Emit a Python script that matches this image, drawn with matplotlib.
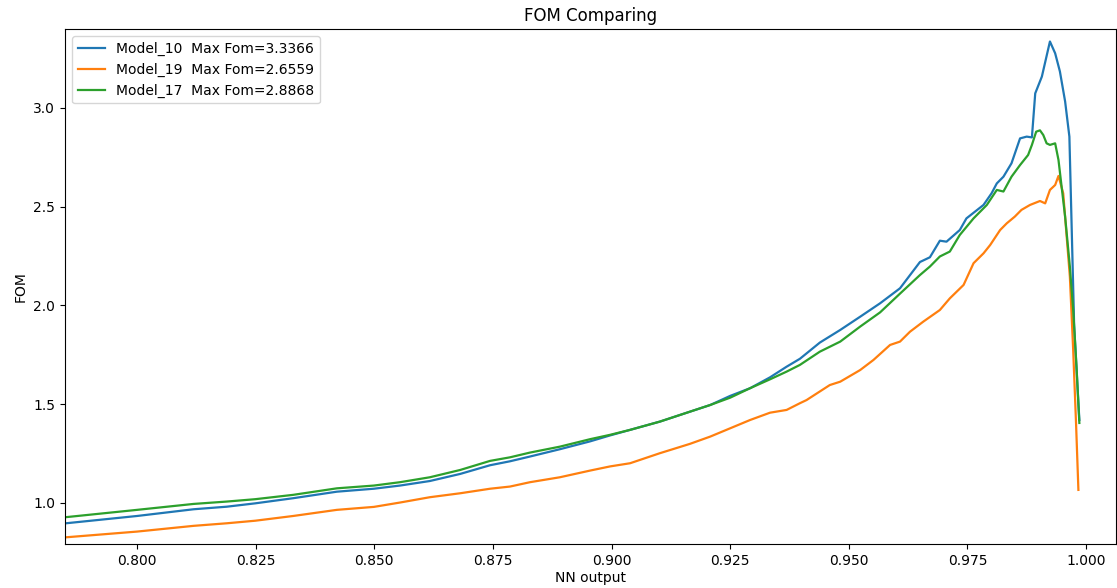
import matplotlib
matplotlib.use("Agg")
import matplotlib.pyplot as plt

# Model_10 (blue)
x_m10 = [0.7850, 0.8000, 0.8119, 0.8189, 0.8249, 0.8329, 0.8421, 0.8499, 0.8554, 0.8617,
         0.8681, 0.8744, 0.8786, 0.8828, 0.8891, 0.8955, 0.8997, 0.9039, 0.9102, 0.9165,
         0.9208, 0.9250, 0.9292, 0.9334, 0.9369, 0.9397, 0.9439, 0.9482, 0.9524, 0.9566,
         0.9608, 0.9650, 0.9671, 0.9692, 0.9706, 0.9734, 0.9748, 0.9784, 0.9801, 0.9812,
         0.9826, 0.9843, 0.9861, 0.9875, 0.9886, 0.9893, 0.9907, 0.9924, 0.9935, 0.9945,
         0.9956, 0.9965, 0.9975, 0.9986]
y_m10 = [0.897, 0.934, 0.968, 0.981, 0.998, 1.024, 1.057, 1.072, 1.088, 1.111,
         1.147, 1.191, 1.211, 1.235, 1.272, 1.312, 1.342, 1.370, 1.412, 1.462,
         1.496, 1.542, 1.581, 1.636, 1.690, 1.730, 1.812, 1.876, 1.943, 2.011,
         2.087, 2.220, 2.244, 2.328, 2.323, 2.382, 2.441, 2.509, 2.568, 2.618,
         2.652, 2.720, 2.846, 2.855, 2.851, 3.074, 3.159, 3.3366, 3.277, 3.185,
         3.033, 2.855, 1.900, 1.420]

# Model_19 (orange)
x_m19 = [0.7850, 0.8000, 0.8119, 0.8189, 0.8249, 0.8329, 0.8421, 0.8499, 0.8554, 0.8617,
         0.8681, 0.8744, 0.8786, 0.8828, 0.8891, 0.8955, 0.8997, 0.9039, 0.9102, 0.9165,
         0.9208, 0.9250, 0.9292, 0.9334, 0.9369, 0.9397, 0.9411, 0.9460, 0.9482, 0.9524,
         0.9552, 0.9587, 0.9608, 0.9629, 0.9657, 0.9692, 0.9713, 0.9742, 0.9763, 0.9784,
         0.9798, 0.9819, 0.9833, 0.9850, 0.9864, 0.9882, 0.9903, 0.9914, 0.9924, 0.9935,
         0.9942, 0.9952, 0.9966, 0.9973, 0.9979, 0.9984]
y_m19 = [0.826, 0.855, 0.884, 0.897, 0.910, 0.934, 0.965, 0.980, 1.002, 1.029,
         1.049, 1.072, 1.083, 1.105, 1.130, 1.164, 1.185, 1.201, 1.252, 1.299,
         1.336, 1.378, 1.420, 1.457, 1.471, 1.505, 1.521, 1.597, 1.614, 1.673,
         1.724, 1.800, 1.817, 1.867, 1.918, 1.977, 2.036, 2.104, 2.214, 2.264,
         2.306, 2.382, 2.416, 2.450, 2.484, 2.509, 2.529, 2.517, 2.585, 2.610,
         2.6559, 2.568, 2.146, 1.775, 1.405, 1.066]

# Model_17 (green)
x_m17 = [0.7850, 0.8000, 0.8119, 0.8189, 0.8249, 0.8329, 0.8421, 0.8499, 0.8554, 0.8617,
         0.8681, 0.8744, 0.8786, 0.8828, 0.8891, 0.8955, 0.8997, 0.9039, 0.9102, 0.9165,
         0.9208, 0.9250, 0.9292, 0.9334, 0.9369, 0.9397, 0.9439, 0.9482, 0.9524, 0.9566,
         0.9608, 0.9650, 0.9671, 0.9692, 0.9713, 0.9734, 0.9763, 0.9791, 0.9812, 0.9826,
         0.9843, 0.9861, 0.9878, 0.9886, 0.9895, 0.9903, 0.9910, 0.9917, 0.9924, 0.9935,
         0.9942, 0.9956, 0.9966, 0.9973, 0.9980, 0.9986]
y_m17 = [0.928, 0.965, 0.995, 1.007, 1.019, 1.041, 1.074, 1.088, 1.105, 1.130,
         1.167, 1.213, 1.231, 1.255, 1.285, 1.323, 1.345, 1.370, 1.412, 1.462,
         1.496, 1.533, 1.581, 1.626, 1.665, 1.699, 1.766, 1.817, 1.893, 1.965,
         2.060, 2.154, 2.197, 2.248, 2.273, 2.357, 2.441, 2.509, 2.585, 2.577,
         2.652, 2.711, 2.762, 2.813, 2.880, 2.8868, 2.863, 2.821, 2.813, 2.821,
         2.737, 2.450, 2.197, 1.977, 1.690, 1.405]

labels = ["Model_10  Max Fom=3.3366", "Model_19  Max Fom=2.6559", "Model_17  Max Fom=2.8868"]
colors = ["#1f77b4", "#ff7f0e", "#2ca02c"]

fig = plt.figure(figsize=(11.17, 5.88), dpi=100)
ax = fig.add_axes([0.0582, 0.0748, 0.9408, 0.8759])

ax.plot(x_m10, y_m10, color=colors[0], lw=1.6, label=labels[0])
ax.plot(x_m19, y_m19, color=colors[1], lw=1.6, label=labels[1])
ax.plot(x_m17, y_m17, color=colors[2], lw=1.6, label=labels[2])

ax.set_xlim(0.7848, 1.0063)
ax.set_ylim(0.792, 3.40)
ax.set_xticks([0.800, 0.825, 0.850, 0.875, 0.900, 0.925, 0.950, 0.975, 1.000])
ax.set_xticklabels(["0.800", "0.825", "0.850", "0.875", "0.900", "0.925", "0.950", "0.975", "1.000"])
ax.set_yticks([1.0, 1.5, 2.0, 2.5, 3.0])
ax.set_yticklabels(["1.0", "1.5", "2.0", "2.5", "3.0"])
ax.tick_params(labelsize=10)

ax.set_title("FOM Comparing", fontsize=12)
ax.set_xlabel("NN output", fontsize=10, labelpad=2)
ax.set_ylabel("FOM", fontsize=10)
ax.legend(loc="upper left", fontsize=10)

fig.savefig("out.png", dpi=100)
